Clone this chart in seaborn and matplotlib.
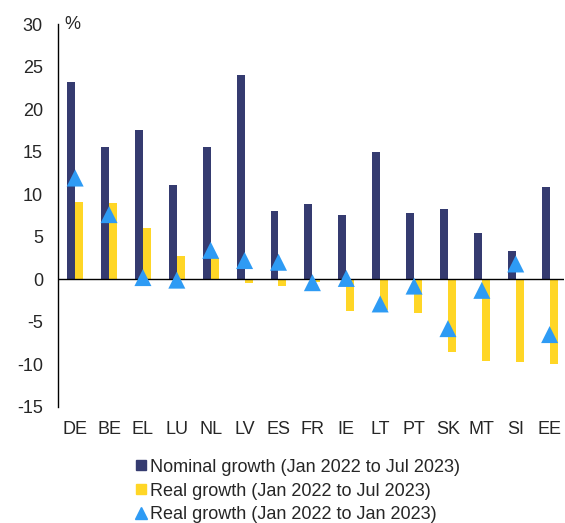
import numpy as np
import pandas as pd
import matplotlib
matplotlib.use("Agg")
import matplotlib.pyplot as plt
from matplotlib.lines import Line2D
import seaborn as sns

countries = ["DE", "BE", "EL", "LU", "NL", "LV", "ES", "FR", "IE", "LT", "PT", "SK", "MT", "SI", "EE"]
nominal_jul23 = [23.2, 15.6, 17.6, 11.1, 15.6, 24.0, 8.0, 8.9, 7.6, 15.0, 7.8, 8.3, 5.4, 3.3, 10.8]
real_jul23 = [9.1, 9.0, 6.0, 2.7, 2.5, -0.4, -0.8, -0.3, -3.7, -3.6, -4.0, -8.5, -9.6, -9.7, -9.9]
real_jan23 = [11.9, 7.6, 0.2, -0.1, 3.4, 2.2, 2.0, -0.4, 0.1, -2.9, -0.8, -5.8, -1.3, 1.8, -6.5]

lab_nom = "Nominal growth (Jan 2022 to Jul 2023)"
lab_real = "Real growth (Jan 2022 to Jul 2023)"
lab_jan = "Real growth (Jan 2022 to Jan 2023)"

c_nom = "#353b70"
c_real = "#ffd626"
c_jan = "#2e9bf4"

sns.set_style("white")
plt.rcParams["font.family"] = ["Liberation Sans", "DejaVu Sans"]
plt.rcParams["font.size"] = 13
plt.rcParams["axes.unicode_minus"] = False

bars = pd.DataFrame({
    "country": countries * 2,
    "value": nominal_jul23 + real_jul23,
    "series": [lab_nom] * len(countries) + [lab_real] * len(countries),
})
pts = pd.DataFrame({"country": countries, "value": real_jan23})

fig = plt.figure(figsize=(5.65, 5.23), dpi=100)
ax = fig.add_axes([0.103, 0.222, 0.895, 0.732])

sns.barplot(data=bars, x="country", y="value", hue="series", order=countries,
            palette={lab_nom: c_nom, lab_real: c_real}, width=0.47, gap=0,
            errorbar=None, legend=False, ax=ax, linewidth=0, saturation=1)
sns.scatterplot(data=pts, x="country", y="value", marker="^", s=150,
                color=c_jan, edgecolor="none", ax=ax, zorder=5, legend=False)

ax.axhline(0, color="black", lw=1, zorder=3)
ax.set_xlim(-0.5, 14.42)
ax.set_ylim(-15, 30)
ax.set_yticks(range(-15, 31, 5))
ax.set_xlabel("")
ax.set_ylabel("")
for s in ["top", "right", "bottom"]:
    ax.spines[s].set_visible(False)
ax.spines["left"].set_color("black")
ax.spines["left"].set_linewidth(1)
ax.tick_params(axis="y", length=0, pad=11, labelsize=13)
ax.tick_params(axis="x", length=0, pad=10, labelsize=13)
ax.annotate("%", xy=(0.012, 1.0), xycoords="axes fraction", ha="left", va="center", fontsize=13)

handles = [
    Line2D([], [], marker="s", color=c_nom, ls="none", markersize=7.5),
    Line2D([], [], marker="s", color=c_real, ls="none", markersize=7.5),
    Line2D([], [], marker="^", color=c_jan, ls="none", markersize=8),
]
fig.legend(handles, [lab_nom, lab_real, lab_jan], loc="upper left",
           bbox_to_anchor=(0.238, 0.123), frameon=False, fontsize=13,
           handlelength=0.7, handletextpad=0.15, labelspacing=0.38, borderpad=0,
           borderaxespad=0)

fig.savefig("out.png", dpi=100)
